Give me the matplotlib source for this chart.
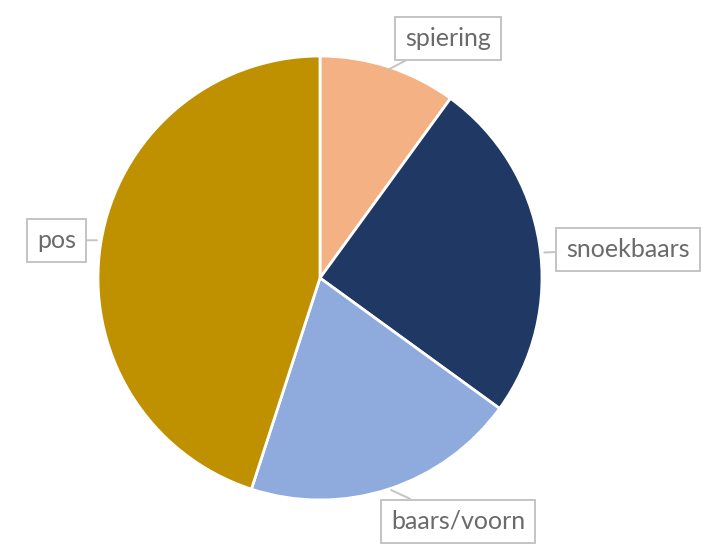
import matplotlib.pyplot as plt

# fish species share (percent), clockwise from 12 o'clock
species = ["spiering", "snoekbaars", "baars/voorn", "pos"]
shares = [10, 25, 20, 45]
colors = ["#F4B183", "#1F3864", "#8FAADC", "#BF9000"]

# label box centres and pointer targets, in pie-radius units
label_pos = [(0.577, 1.08), (1.387, 0.13), (0.622, -1.095), (-1.185, 0.17)]
pointer_at = [(0.31, 0.94), (1.01, 0.115), (0.32, -0.955), (-1.005, 0.17)]

fig = plt.figure(figsize=(7.2, 5.47), dpi=100)
ax = fig.add_axes([0, 0, 1, 1])

r_px = 222.0
cx, cy = 320.0, 278.0

ax.pie(
    shares,
    colors=colors,
    startangle=90,
    counterclock=False,
    radius=1.0,
    wedgeprops=dict(edgecolor="white", linewidth=2),
    frame=True,
)
ax.set_xlim(-cx / r_px, (720 - cx) / r_px)
ax.set_ylim(-(547 - cy) / r_px, cy / r_px)
ax.set_aspect("equal")
ax.axis("off")

for name, (tx, ty), (px, py) in zip(species, label_pos, pointer_at):
    ax.annotate(
        name,
        xy=(px, py),
        xytext=(tx, ty),
        ha="center",
        va="center",
        fontsize=18,
        family="Lato",
        color="#6A6A6A",
        bbox=dict(boxstyle="square,pad=0.4", fc="white", ec="#C4C4C4", lw=1.4),
        arrowprops=dict(arrowstyle="-", color="#C4C4C4", lw=1.4,
                        shrinkA=0, shrinkB=0),
    )

fig.savefig("out.png", dpi=100)
